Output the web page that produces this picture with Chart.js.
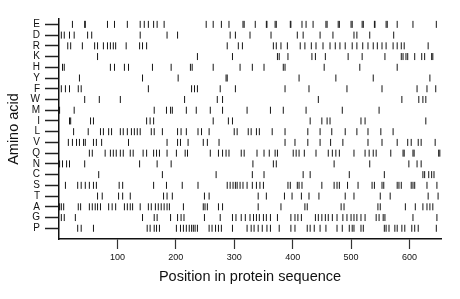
<!DOCTYPE html>
<html>
<head>
<meta charset="utf-8">
<script src="https://cdn.jsdelivr.net/npm/chart.js@4/dist/chart.umd.min.js"></script>
<style>
  html, body { margin: 0; padding: 0; background: #fff; }
  #wrap { width: 460px; height: 299px; }
</style>
</head>
<body>
<div id="wrap"><canvas id="c" width="460" height="299"></canvas></div>
<script>
// Categories, top to bottom
const aminoAcids = ['E','D','R','K','H','Y','F','W','M','I','L','V','Q','N','C','S','T','A','G','P'];
// Sequence length (x-axis end)
const seqLength = 654;
const xTickValues = [100,200,300,400,500,600];

// Positions of each amino acid in the protein sequence
const posE = [23,44,45,83,95,117,139,146,153,162,168,180,252,264,278,291,315,317,336,355,356,370,372,396,397,416,423,435,457,459,478,480,500,502,519,521,540,541,560,562,579,606,646];
const posD = [4,9,18,26,49,56,139,185,203,293,302,327,363,408,418,447,469,505,510,532,573];
const posR = [15,20,40,61,66,76,83,88,93,97,115,138,143,150,288,307,314,367,372,380,391,413,421,432,440,452,464,473,481,490,502,510,520,529,538,545,553,560,572,579,586,591,632];
const posK = [66,237,297,374,377,392,433,439,456,495,519,558,586,589,594,597,609,621,626,638,640];
const posH = [6,9,88,95,112,119,160,192,225,228,264,310,331,351,384,387,454,515,579];
const posY = [35,143,204,286,288,411,474,538,635];
const posF = [4,11,18,33,38,153,227,232,237,276,302,387,428,493,553,613,630,645];
const posW = [44,69,105,215,271,280,444,587,616,623,628];
const posM = [1,26,163,184,191,194,218,235,259,280,322,362,384,423,485,548];
const posI = [18,20,54,59,150,156,162,264,290,297,430,450,459,464,517,524,628];
const posL = [25,50,71,76,85,90,105,110,117,124,129,134,139,158,163,177,203,209,218,238,244,257,300,305,324,329,338,343,365,387,426,447,467,490,510,529,551,572];
const posV = [16,23,30,35,42,45,59,64,73,119,185,203,208,221,247,254,274,387,404,426,447,465,486,529,553,579,597,603,615,620,644];
const posQ = [52,57,79,88,93,98,105,110,122,127,144,150,162,167,172,185,201,216,220,259,273,280,286,291,312,317,339,351,360,370,374,401,406,411,420,440,461,468,474,480,505,524,531,538,543,568,589,591,606,608,650,652];
const posN = [1,6,13,18,44,138,168,192,332,367,372,471,532,599,613,620];
const posC = [68,177,269,331,351,418,430,497,557,623,626,633,638,642];
const posS = [11,32,38,45,52,59,64,103,109,162,184,211,238,288,293,298,302,305,310,315,322,331,338,344,350,392,396,408,411,416,450,471,476,480,494,512,536,540,553,556,579,582,586,603,606,609,630,647];
const posT = [66,74,102,109,122,179,185,194,249,257,341,355,386,399,415,428,445,490,505,550,567,632,649];
const posA = [1,4,8,33,37,52,57,62,66,71,85,91,97,112,117,122,126,139,153,158,165,170,175,180,185,189,213,247,250,254,273,280,341,380,421,425,483,488,546,550,593,610,623,630,635,640];
const posG = [4,9,28,143,163,168,191,203,209,214,249,276,297,303,312,319,327,333,338,343,350,355,362,374,397,404,409,415,439,444,450,456,461,468,476,486,493,500,505,510,517,524,543,548,555,558,606,647];
const posP = [32,38,59,151,156,163,167,172,201,208,213,218,223,227,230,233,237,257,262,268,273,278,297,322,329,334,341,348,356,362,377,397,404,425,430,437,447,457,476,485,497,502,505,517,521,557,560,565,575,579,587,592,604,609,615,646];

const positions = {E:posE,D:posD,R:posR,K:posK,H:posH,Y:posY,F:posF,W:posW,M:posM,I:posI,L:posL,V:posV,Q:posQ,N:posN,C:posC,S:posS,T:posT,A:posA,G:posG,P:posP};

const nAA = aminoAcids.length;
const rowOf = aa => nAA - 1 - aminoAcids.indexOf(aa);

const datasets = aminoAcids.map(aa => ({
  label: aa,
  data: positions[aa].map(p => ({x: p, y: rowOf(aa)})),
  pointStyle: 'line',
  rotation: 90,
  radius: 3.5,
  hoverRadius: 3.5,
  borderWidth: 1,
  borderColor: '#151515',
  backgroundColor: '#151515',
  showLine: false
}));

new Chart(document.getElementById('c'), {
  type: 'scatter',
  data: { datasets },
  options: {
    responsive: false,
    animation: false,
    events: [],
    layout: { padding: { top: 19, right: 19, left: 0, bottom: 0 } },
    plugins: { legend: { display: false }, tooltip: { enabled: false } },
    scales: {
      x: {
        type: 'linear',
        min: 0,
        max: seqLength,
        afterBuildTicks: s => { s.ticks = xTickValues.map(v => ({value: v})); },
        afterFit: s => { s.height = 60; },
        border: { display: true, color: '#111', width: 1.5 },
        grid: { drawOnChartArea: false, drawTicks: true, tickLength: 10, tickColor: '#333', tickWidth: 1.2 },
        ticks: { color: '#111', padding: 3, autoSkip: false, font: { family: 'Liberation Sans', size: 9 }, maxRotation: 0 },
        title: { display: true, text: 'Position in protein sequence', color: '#111',
                 font: { family: 'Liberation Sans', size: 14.5 }, padding: { top: 0, bottom: 13 } }
      },
      y: {
        type: 'linear',
        min: -1,
        max: 19.5,
        afterBuildTicks: s => { s.ticks = aminoAcids.map((aa, i) => ({value: nAA - 1 - i})); },
        afterFit: s => { s.width = 59; },
        border: { display: true, color: '#111', width: 1.5 },
        grid: { drawOnChartArea: false, drawTicks: true, tickLength: 14, tickColor: '#222', tickWidth: 1.5 },
        ticks: { color: '#111', padding: 5, autoSkip: false, font: { family: 'Liberation Sans', size: 10 },
                 callback: v => aminoAcids[nAA - 1 - v] },
        title: { display: true, text: 'Amino acid', color: '#111',
                 font: { family: 'Liberation Sans', size: 14.5 }, padding: { top: 5, bottom: 0 } }
      }
    }
  }
});
</script>
</body>
</html>
